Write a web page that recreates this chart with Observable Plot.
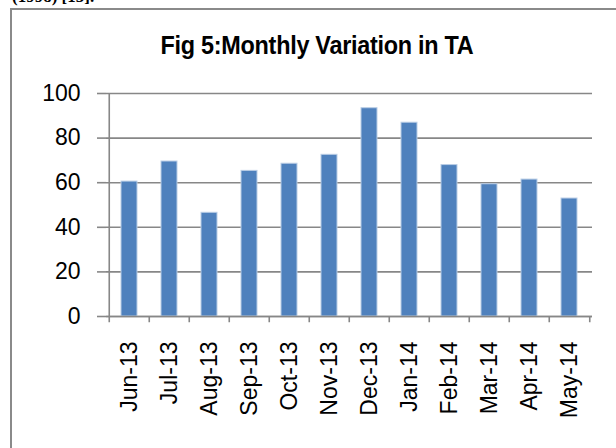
<!DOCTYPE html>
<html>
<head>
<meta charset="utf-8">
<script src="https://cdn.jsdelivr.net/npm/d3@7"></script>
<script src="https://cdn.jsdelivr.net/npm/@observablehq/plot@0.6"></script>
<style>
  html, body { margin: 0; padding: 0; background: #fff; }
  #page { position: relative; width: 616px; height: 448px; overflow: hidden; }
  #above { position: absolute; left: 12px; top: -13px; font-family: "Liberation Serif", serif; font-weight: bold; font-size: 17px; color: #000; }
  #box { position: absolute; left: 10px; top: 8px; width: 640px; height: 480px; border: 2px solid #8a8a8a; box-sizing: border-box; }
  #title { position: absolute; left: 10px; width: 612px; top: 30px; text-align: center; font-family: "Liberation Sans Narrow", "Liberation Sans", Arial, sans-serif; font-weight: bold; font-size: 26px; color: #000; transform: scaleX(0.9); transform-origin: 316px 0; letter-spacing: -0.3px; }
  #chart { position: absolute; left: 0; top: 0; }
</style>
</head>
<body>
<div id="page">
  <div id="above">(1998) [13].</div>
  <div id="box"></div>
  <div id="title">Fig 5:Monthly Variation in TA</div>
  <div id="chart"></div>
</div>
<script>
const months = ["Jun-13","Jul-13","Aug-13","Sep-13","Oct-13","Nov-13","Dec-13","Jan-14","Feb-14","Mar-14","Apr-14","May-14"];
const values = [60.5, 69.5, 46.5, 65.3, 68.5, 72.5, 93.4, 86.9, 67.9, 59.3, 61.4, 52.9];
const yTicks = [0, 20, 40, 60, 80, 100];

const data = months.map((m, i) => ({month: m, value: values[i]}));
const gray = "#878787";
const W = 616, H = 448;
const mL = 106, mR = 24;
const step = (W - mL - mR) / months.length;

const chart = Plot.plot({
  width: W,
  height: H,
  marginLeft: mL,
  marginRight: mR,
  marginTop: 93,
  marginBottom: 132,
  style: {background: "transparent", overflow: "visible"},
  x: {domain: months, paddingInner: 0.6, paddingOuter: 0.3, label: null},
  y: {domain: [0, 100], label: null},
  marks: [
    Plot.gridY(yTicks, {stroke: gray, strokeOpacity: 1, strokeWidth: 1.6}),
    Plot.axisY(yTicks, {
      tickSize: 9, stroke: gray, strokeWidth: 1.6, tickPadding: 17,
      fontSize: 23, fill: "#000", fontFamily: "Liberation Sans, Arial, sans-serif",
      tickFormat: d => String(d)
    }),
    Plot.ruleX([months[0]], {dx: -step / 2, y1: 0, y2: 100, stroke: gray, strokeWidth: 1.6}),
    Plot.barY(data, {x: "month", y: "value", fill: "#4F81BD", stroke: "#b9cde5", strokeWidth: 1}),
    Plot.ruleY([0], {stroke: gray, strokeWidth: 1.6}),
    Plot.ruleX(months, {dx: -step / 2, y1: 0, y2: -2.8, stroke: gray, strokeWidth: 1.6, clip: false}),
    Plot.ruleX([months[months.length - 1]], {dx: step / 2, y1: 0, y2: -2.8, stroke: gray, strokeWidth: 1.6, clip: false}),
    Plot.axisX({
      tickSize: 0, tickRotate: -90, tickPadding: 25,
      fontSize: 23, fill: "#000", fontFamily: "Liberation Sans, Arial, sans-serif",
      textAnchor: "end", label: null
    })
  ]
});
document.getElementById("chart").appendChild(chart);
</script>
</body>
</html>
